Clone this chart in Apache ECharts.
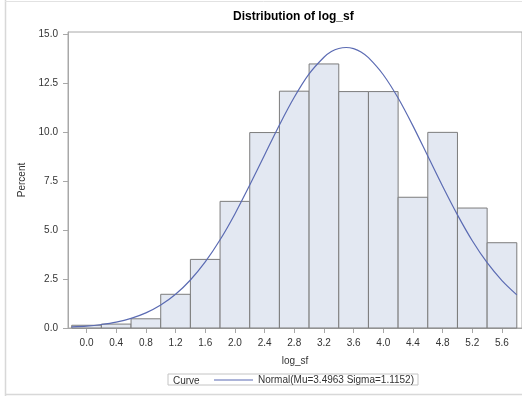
<!DOCTYPE html>
<html>
<head>
<meta charset="utf-8">
<script src="https://cdn.jsdelivr.net/npm/echarts@6/dist/echarts.min.js"></script>
<style>html,body{margin:0;padding:0;background:#fff;}#c{width:522px;height:396px;}</style>
</head>
<body>
<div id="c"></div>
<script>
// Histogram bin midpoints (log_sf) and bar heights (percent)
const binMids = [0.0, 0.4, 0.8, 1.2, 1.6, 2.0, 2.4, 2.8, 3.2, 3.6, 4.0, 4.4, 4.8, 5.2, 5.6];
const binPercent = [0.14, 0.2, 0.47, 1.72, 3.5, 6.46, 9.97, 12.08, 13.47, 12.06, 12.06, 6.67, 9.98, 6.12, 4.35];
const binWidth = 0.4;
// Normal curve points
const curveX = [-0.2, 0.0, 0.2, 0.4, 0.6, 0.8, 1.0, 1.2, 1.4, 1.6, 1.8, 2.0, 2.2, 2.4, 2.6, 2.8, 3.0, 3.2, 3.3, 3.4, 3.5, 3.6, 3.7, 3.8, 4.0, 4.2, 4.4, 4.6, 4.8, 5.0, 5.2, 5.4, 5.6, 5.8];
const curveY = [0.06, 0.1, 0.18, 0.3, 0.49, 0.77, 1.17, 1.72, 2.45, 3.37, 4.5, 5.82, 7.29, 8.83, 10.36, 11.77, 12.96, 13.81, 14.1, 14.26, 14.31, 14.25, 14.08, 13.79, 12.92, 11.73, 10.31, 8.77, 7.23, 5.77, 4.45, 3.33, 2.42, 1.69];
const xTicks = [0.0, 0.4, 0.8, 1.2, 1.6, 2.0, 2.4, 2.8, 3.2, 3.6, 4.0, 4.4, 4.8, 5.2, 5.6];
const yTicks = [0, 2.5, 5, 7.5, 10, 12.5, 15];
const curveName = 'Normal(Mu=3.4963 Sigma=1.1152)';

const font = 'Liberation Sans, Arial, sans-serif';
const chart = echarts.init(document.getElementById('c'), null, {renderer: 'canvas'});
const barData = binMids.map((m, i) => [m - binWidth / 2, m + binWidth / 2, binPercent[i]]);
const curveData = curveX.map((x, i) => [x, curveY[i]]);

chart.setOption({
  animation: false,
  backgroundColor: '#ffffff',
  textStyle: {fontFamily: font},
  title: {
    text: 'Distribution of log_sf',
    left: 228, top: 6,
    textStyle: {fontFamily: font, fontSize: 12, fontWeight: 'bold', color: '#000'}
  },
  grid: {
    left: 68, top: 32, width: 456, height: 296,
    show: true, borderColor: '#a8a8a8', borderWidth: 1, backgroundColor: 'transparent'
  },
  xAxis: {
    type: 'value', min: -0.25, max: 5.87,
    name: 'log_sf', nameLocation: 'middle', nameGap: 28,
    nameTextStyle: {fontFamily: font, fontSize: 10, color: '#333'},
    axisLine: {show: true, onZero: false, lineStyle: {color: '#a8a8a8'}},
    axisTick: {show: true, length: 5, lineStyle: {color: '#a8a8a8'}, customValues: xTicks},
    axisLabel: {fontFamily: font, fontSize: 10, color: '#333', margin: 10, customValues: xTicks,
      formatter: v => v.toFixed(1)},
    splitLine: {show: false}
  },
  yAxis: {
    type: 'value', min: 0, max: 15.1,
    name: 'Percent', nameLocation: 'middle', nameGap: 41, nameRotate: 90,
    nameTextStyle: {fontFamily: font, fontSize: 10, color: '#333'},
    axisLine: {show: true, onZero: false, lineStyle: {color: '#a8a8a8'}},
    axisTick: {show: true, length: 5, lineStyle: {color: '#a8a8a8'}, customValues: yTicks},
    axisLabel: {fontFamily: font, fontSize: 10, color: '#333', margin: 10, customValues: yTicks,
      formatter: v => v.toFixed(1)},
    splitLine: {show: false}
  },
  legend: {
    left: 168, top: 374,
    padding: [1, 4, 0, 46],
    borderColor: '#c4c4c4', borderWidth: 1,
    itemWidth: 39, itemHeight: 1,
    textStyle: {fontFamily: font, fontSize: 10, color: '#333'},
    data: [{name: curveName, icon: 'rect'}]
  },
  graphic: [
    {type: 'text', left: 173, top: 376, style: {text: 'Curve', font: '10px ' + font, fill: '#333'}},
    {type: 'line', shape: {x1: 5.5, y1: 0, x2: 5.5, y2: 396}, style: {stroke: '#d8d8d8', lineWidth: 1.5}},
    {type: 'line', shape: {x1: 5, y1: 1.5, x2: 522, y2: 1.5}, style: {stroke: '#e2e2e2', lineWidth: 1}},
    {type: 'line', shape: {x1: 5, y1: 394.5, x2: 522, y2: 394.5}, style: {stroke: '#d8d8d8', lineWidth: 1.5}}
  ],
  series: [
    {
      type: 'custom', name: 'Histogram',
      data: barData,
      encode: {x: [0, 1], y: 2},
      renderItem: function (params, api) {
        const p0 = api.coord([api.value(0), api.value(2)]);
        const p1 = api.coord([api.value(1), 0]);
        return {
          type: 'rect',
          shape: {x: p0[0], y: p0[1], width: p1[0] - p0[0], height: p1[1] - p0[1]},
          style: {fill: '#e3e8f2', stroke: '#7c7c7c', lineWidth: 1}
        };
      },
      z: 2
    },
    {
      type: 'line', name: curveName,
      data: curveData, smooth: 0.3, symbol: 'none',
      lineStyle: {color: '#5b6bb3', width: 1.2},
      itemStyle: {color: '#5b6bb3'},
      z: 3
    }
  ]
});
</script>
</body>
</html>
